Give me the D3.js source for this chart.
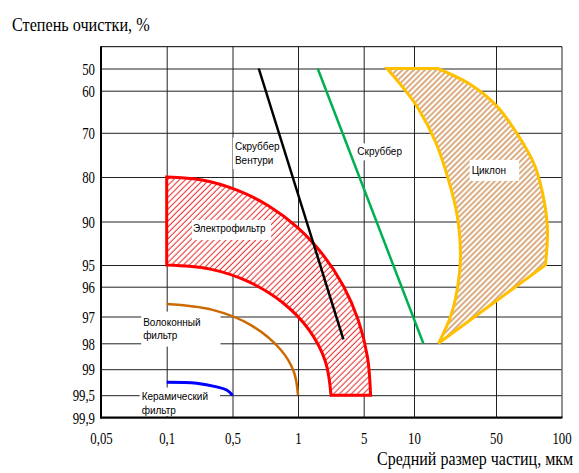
<!DOCTYPE html>
<html><head><meta charset="utf-8">
<script src="https://cdn.jsdelivr.net/npm/d3@7"></script>
<style>html,body{margin:0;padding:0;background:#fff;} svg{display:block}</style>
</head><body><svg id="chart" width="579" height="473"></svg>
<script>
// ---------------- DATA ----------------
const xTicks = [0.05, 0.1, 0.5, 1, 5, 10, 50, 100];
const xTickLabels = ["0,05", "0,1", "0,5", "1", "5", "10", "50", "100"];
const yTicks = [50, 60, 70, 80, 90, 95, 96, 97, 98, 99, 99.5, 99.9];
const yTickLabels = ["50", "60", "70", "80", "90", "95", "96", "97", "98", "99", "99,5", "99,9"];

const yTitle = "Степень очистки, %";
const xTitle = "Средний размер частиц, мкм";

// Скруббер Вентури (black line)
const venturiX = [0.66, 3.04];
const venturiY = [50, 97.85];
// Скруббер (green line)
const scrubberX = [1.62, 12.0];
const scrubberY = [50, 98];

// Электрофильтр (hatched band)
const electroOuterX = [0.1, 0.238, 0.521, 0.734, 1.0, 1.846, 3.04, 4.39, 5.27, 5.5];
const electroOuterY = [80, 80.67, 82.9, 86.5, 90.72, 93.83, 95.97, 97.15, 98.54, 99.5];
const electroInnerX = [0.1, 0.283, 0.595, 0.852, 1.309, 1.956, 2.244];
const electroInnerY = [95, 95.18, 95.78, 96.54, 97.5, 98.7, 99.5];

// Волоконный фильтр
const fiberX = [0.1, 0.301, 0.61, 0.833, 0.957, 1.0];
const fiberY = [96.58, 96.77, 97.33, 98.25, 99.05, 99.5];

// Керамический фильтр
const ceramicX = [0.1, 0.208, 0.34, 0.434, 0.5];
const ceramicY = [99.25, 99.27, 99.34, 99.4, 99.5];

// Циклон (hatched crescent)
const cycloneRightX = [6.89, 15.9, 29.4, 50.3, 63.1, 75.5, 83.1, 86.2, 84.4];
const cycloneRightY = [50, 50, 56.8, 63.6, 70.5, 77.5, 85.2, 90.98, 95];
const cycloneLeftX = [16.2, 20.7, 23.7, 24.9, 23.3, 19.9, 15.4, 10.8, 8.83, 6.89];
const cycloneLeftY = [98, 96.95, 95.92, 93.85, 88.54, 81.1, 72.3, 64.1, 59.7, 50];

// Annotation texts and anchor (data coordinates)
const labelLines = [["Скруббер", "Вентури"], ["Скруббер"], ["Циклон"], ["Электрофильтр"], ["Волоконный", "фильтр"], ["Керамический", "фильтр"]];
const labelAtX = [0.513, 4.28, 31.0, 0.19, 0.078, 0.0768];
const labelAtY = [73.8, 75.1, 79.3, 91.2, 97.34, 99.595];

// ---------------- LAYOUT ----------------
const frame = {left: 101, right: 561.5, top: 46.7, bottom: 417.5};
const xSlots = [101, 166.7, 232.5, 298, 363.7, 414, 496, 561.5];
const ySlots = [68.5, 90.7, 132.8, 177, 221.5, 265, 286.7, 316.5, 343.3, 369.2, 395.2, 417.5];
// label box paddings [left, top, right, bottom]
const labelPads = [[2, 3, 1, 3], [2, 3, 2, 3], [2, 5, 13, 5], [1, 3, 5, 6], [2, 5, 20, 6], [2, 4, 12, 0]];
const labelLineH = [14.5, 14, 14, 14, 13, 13.5];
const serif = "'Liberation Serif','Times New Roman',serif";
const sans = "'Liberation Sans',Arial,sans-serif";

const x = d3.scaleLog().domain(xTicks).range(xSlots);
const y = d3.scaleLinear().domain(yTicks).range(ySlots);

const svg = d3.select("#chart");

// patterns
const defs = svg.append("defs");
const pr = defs.append("pattern").attr("id", "hatchRed").attr("patternUnits", "userSpaceOnUse")
  .attr("width", 4.2).attr("height", 4.2).attr("patternTransform", "rotate(45)");
pr.append("rect").attr("width", 4.2).attr("height", 4.2).attr("fill", "#fff");
pr.append("line").attr("x1", 2).attr("x2", 2).attr("y1", 0).attr("y2", 4.2).attr("stroke", "#e83a3a").attr("stroke-width", 1.1);
const pc = defs.append("pattern").attr("id", "hatchCyc").attr("patternUnits", "userSpaceOnUse")
  .attr("width", 4).attr("height", 4).attr("patternTransform", "rotate(45)");
pc.append("rect").attr("width", 4).attr("height", 4).attr("fill", "#fbfdf8");
pc.append("line").attr("x1", 2).attr("x2", 2).attr("y1", 0).attr("y2", 4).attr("stroke", "#c8773a").attr("stroke-width", 1.2);

// grid via axes
const gx = svg.append("g").attr("transform", `translate(0,${frame.bottom})`)
  .call(d3.axisBottom(x).tickValues(xTicks).tickFormat((d, i) => xTickLabels[i])
    .tickSize(-(frame.bottom - frame.top)).tickSizeOuter(0).tickPadding(15));
gx.select(".domain").remove();
gx.selectAll(".tick line").attr("stroke", "#222");
gx.selectAll(".tick text").attr("font-family", serif).attr("font-size", 16).attr("fill", "#000")
  .attr("transform", "scale(0.8,1)");

const gy = svg.append("g").attr("transform", `translate(${frame.left},0)`)
  .call(d3.axisLeft(y).tickValues(yTicks).tickFormat((d, i) => yTickLabels[i])
    .tickSize(-(frame.right - frame.left)).tickSizeOuter(0).tickPadding(7.5));
gy.select(".domain").remove();
gy.selectAll(".tick line").attr("stroke", "#222");
gy.selectAll(".tick text").attr("font-family", serif).attr("font-size", 16).attr("fill", "#000")
  .attr("dy", "0.36em").attr("transform", "scale(0.8,1)");

// helpers
const zip = (xs, ys) => xs.map((v, i) => [v, ys[i]]);
const curve = d3.line().x(d => x(d[0])).y(d => y(d[1])).curve(d3.curveCatmullRom.alpha(0.5));
const straight = d3.line().x(d => x(d[0])).y(d => y(d[1]));
const cont = p => p.replace(/^M/, "L");

// Электрофильтр
const eOuter = zip(electroOuterX, electroOuterY);
const eInner = zip(electroInnerX, electroInnerY).reverse();
const electroPath = curve(eOuter) + cont(curve(eInner)) + "Z";
svg.append("path").attr("d", electroPath).attr("fill", "url(#hatchRed)")
  .attr("stroke", "#ff0000").attr("stroke-width", 3).attr("stroke-linejoin", "miter");

// Циклон
const cRight = zip(cycloneRightX, cycloneRightY);
const cLeft = zip(cycloneLeftX, cycloneLeftY);
const cycPath = straight(cRight.slice(0, 2)) + cont(curve(cRight.slice(1))) + cont(curve(cLeft)) + "Z";
svg.append("path").attr("d", cycPath).attr("fill", "url(#hatchCyc)")
  .attr("stroke", "#ffc000").attr("stroke-width", 3).attr("stroke-linejoin", "miter");

// labels with white boxes
labelLines.forEach((lines, i) => {
  const g = svg.append("g");
  const rect = g.append("rect").attr("fill", "#fff");
  const t = g.append("text").attr("font-family", sans).attr("font-size", 10).attr("fill", "#000");
  lines.forEach((ln, j) => {
    t.append("tspan").attr("x", x(labelAtX[i])).attr("y", y(labelAtY[i]) + j * labelLineH[i]).text(ln);
  });
  const bb = t.node().getBBox();
  const p = labelPads[i];
  rect.attr("x", bb.x - p[0]).attr("y", bb.y - p[1])
    .attr("width", bb.width + p[0] + p[2]).attr("height", bb.height + p[1] + p[3]);
});

// lines (drawn over label boxes)
svg.append("path").attr("d", straight(zip(venturiX, venturiY))).attr("fill", "none")
  .attr("stroke", "#000").attr("stroke-width", 2.5);
svg.append("path").attr("d", straight(zip(scrubberX, scrubberY))).attr("fill", "none")
  .attr("stroke", "#00b050").attr("stroke-width", 2.5);
svg.append("path").attr("d", curve(zip(fiberX, fiberY))).attr("fill", "none")
  .attr("stroke", "#cc6a00").attr("stroke-width", 2.5);
svg.append("path").attr("d", curve(zip(ceramicX, ceramicY))).attr("fill", "none")
  .attr("stroke", "#0000ff").attr("stroke-width", 3);

// frame / axes lines
svg.append("line").attr("x1", frame.left).attr("x2", frame.right + 0.5).attr("y1", frame.top).attr("y2", frame.top)
  .attr("stroke", "#000").attr("stroke-width", 1);
svg.append("line").attr("x1", frame.left).attr("x2", frame.left).attr("y1", frame.top - 0.5).attr("y2", frame.bottom + 1)
  .attr("stroke", "#000").attr("stroke-width", 2);
svg.append("line").attr("x1", frame.left - 1).attr("x2", frame.right + 1).attr("y1", frame.bottom).attr("y2", frame.bottom)
  .attr("stroke", "#000").attr("stroke-width", 2);

// titles
svg.append("text").attr("transform", "translate(12,31) scale(0.9,1)").attr("font-family", serif).attr("font-size", 18)
  .attr("fill", "#000").text(yTitle);
svg.append("text").attr("transform", "translate(377,465) scale(0.89,1)").attr("font-family", serif).attr("font-size", 18)
  .attr("fill", "#000").text(xTitle);
</script></body></html>
